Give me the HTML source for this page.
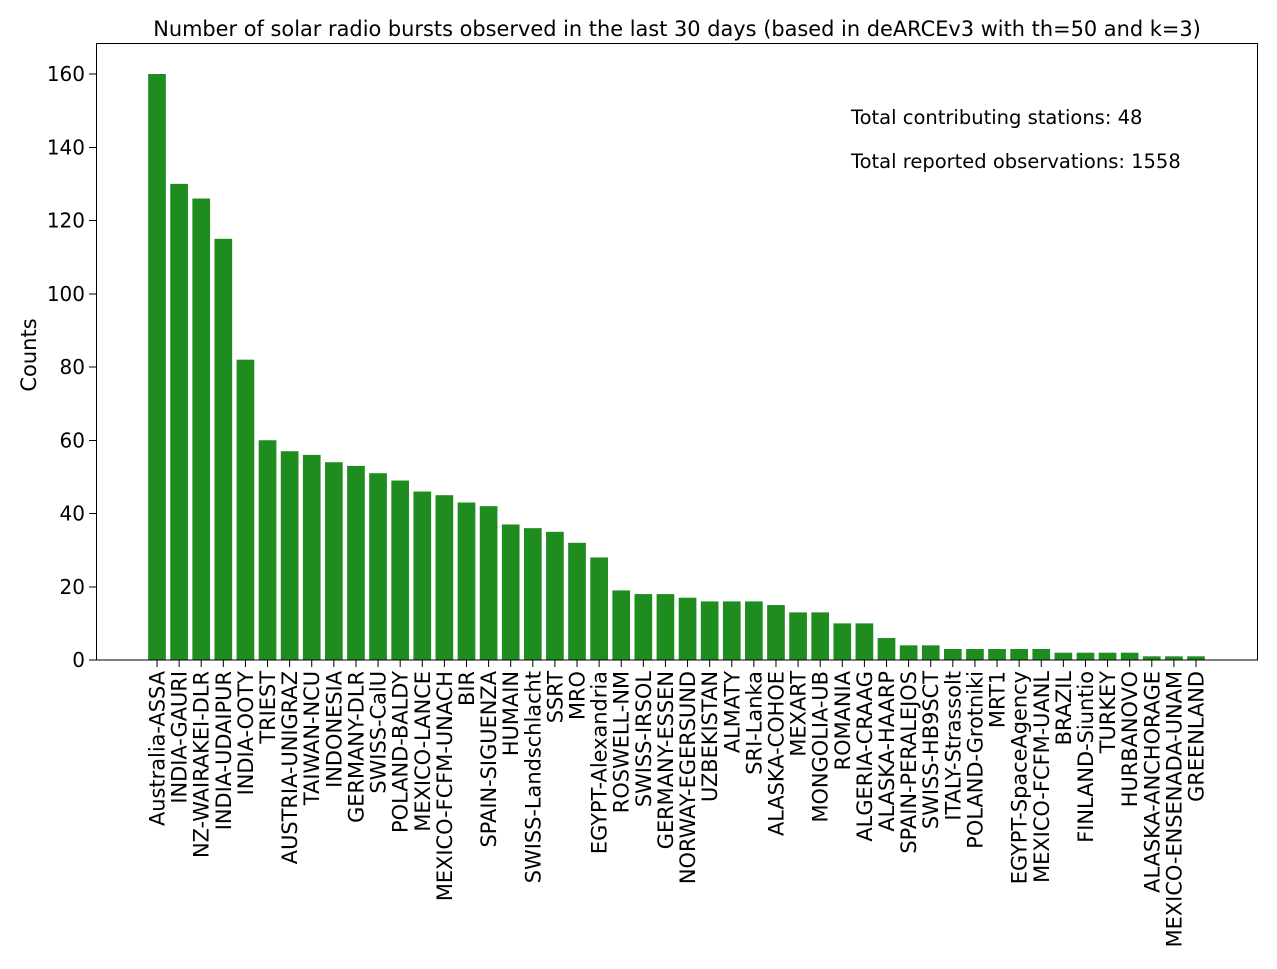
<!DOCTYPE html>
<html><head><meta charset="utf-8"><style>
html,body{margin:0;padding:0;background:#fff;}
svg text{font-family:"DejaVu Sans","Liberation Sans",sans-serif;fill:#000;}
</style></head><body>
<svg width="1277" height="964" xmlns="http://www.w3.org/2000/svg" id="s">
<rect width="1277" height="964" fill="#fff"/>
<text x="677" y="36" font-size="20.9" text-anchor="middle">Number of solar radio bursts observed in the last 30 days (based in deARCEv3 with th=50 and k=3)</text>
<g id="bars"></g>
<rect x="96.5" y="43.5" width="1161" height="616.5" fill="none" stroke="#000" stroke-width="1" shape-rendering="crispEdges"/>
<g id="yt" shape-rendering="crispEdges"></g>
<g id="xt"></g>
<text transform="translate(36,355) rotate(-90)" font-size="21" text-anchor="middle">Counts</text>
<text x="851" y="124" font-size="19.5">Total contributing stations: 48</text>
<text x="851" y="168" font-size="19.5">Total reported observations: 1558</text>
</svg>
<script>
const v=[160,130,126,115,82,60,57,56,54,53,51,49,46,45,43,42,37,36,35,32,28,19,18,18,17,16,16,16,15,13,13,10,10,6,4,4,3,3,3,3,3,2,2,2,2,1,1,1];
const n=["Australia-ASSA","INDIA-GAURI","NZ-WAIRAKEI-DLR","INDIA-UDAIPUR","INDIA-OOTY","TRIEST","AUSTRIA-UNIGRAZ","TAIWAN-NCU","INDONESIA","GERMANY-DLR","SWISS-CalU","POLAND-BALDY","MEXICO-LANCE","MEXICO-FCFM-UNACH","BIR","SPAIN-SIGUENZA","HUMAIN","SWISS-Landschlacht","SSRT","MRO","EGYPT-Alexandria","ROSWELL-NM","SWISS-IRSOL","GERMANY-ESSEN","NORWAY-EGERSUND","UZBEKISTAN","ALMATY","SRI-Lanka","ALASKA-COHOE","MEXART","MONGOLIA-UB","ROMANIA","ALGERIA-CRAAG","ALASKA-HAARP","SPAIN-PERALEJOS","SWISS-HB9SCT","ITALY-Strassolt","POLAND-Grotniki","MRT1","EGYPT-SpaceAgency","MEXICO-FCFM-UANL","BRAZIL","FINLAND-Siuntio","TURKEY","HURBANOVO","ALASKA-ANCHORAGE","MEXICO-ENSENADA-UNAM","GREENLAND"];
const NS="http://www.w3.org/2000/svg";
function el(t,a,p,txt){const e=document.createElementNS(NS,t);for(const k in a)e.setAttribute(k,a[k]);if(txt!==undefined)e.textContent=txt;document.getElementById(p).appendChild(e);}
const y0=660,sc=586/160,step=(1196-157)/47,w=step*0.8;
v.forEach((d,i)=>{const cx=157+i*step;
el("rect",{x:cx-w/2,y:y0-d*sc,width:w,height:d*sc,fill:"#1e8c1e"},"bars");
el("line",{x1:cx,x2:cx,y1:660,y2:667,stroke:"#000"},"xt");
el("text",{transform:`translate(${cx+7.5},671) rotate(-90)`,"font-size":"20.9","text-anchor":"end"},"xt",n[i]);});
for(let t=0;t<=160;t+=20){const y=y0-t*sc;
el("line",{x1:89,x2:96,y1:y,y2:y,stroke:"#000"},"yt");
el("text",{x:85,y:y+7,"font-size":"20","text-anchor":"end"},"yt",String(t));}
</script>
</body></html>
